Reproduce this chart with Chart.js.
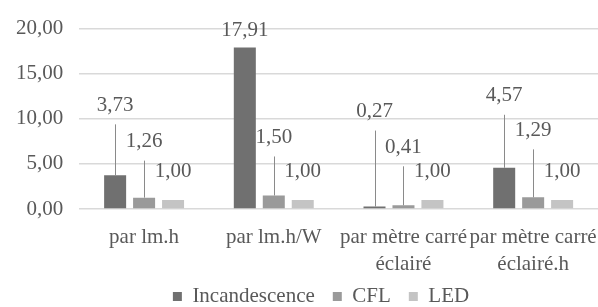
<!DOCTYPE html>
<html><head><meta charset="utf-8">
<script src="https://cdn.jsdelivr.net/npm/chart.js@4/dist/chart.umd.min.js"></script>
<style>html,body{margin:0;padding:0;background:#fff}#w{width:598px;height:307px}</style>
</head><body><div id="w"><canvas id="c" width="598" height="307"></canvas></div>
<script>
const categories = [["par lm.h"], ["par lm.h/W"], ["par mètre carré", "éclairé"], ["par mètre carré", "éclairé.h"]];
const seriesNames = ["Incandescence", "CFL", "LED"];
const incandescence = [3.73, 17.91, 0.27, 4.57];
const cfl = [1.26, 1.50, 0.41, 1.29];
const led = [1.00, 1.00, 1.00, 1.00];
const yTicks = [0, 5, 10, 15, 20];

const colors = ["#707070", "#9a9a9a", "#c4c4c4"];
const FONT = "'Liberation Serif', 'Times New Roman', serif";
const TXT = "#595959";
const FS = 21;
const fmt = v => v.toFixed(2).replace('.', ',');
Chart.defaults.font.family = FONT;
Chart.defaults.font.size = FS;
Chart.defaults.color = TXT;

// label lift above bar top (px) and whether a leader line is drawn
const labelLift = [[70, 17, 95, 72], [56, 58, 58, 67], [28, 28, 28, 28]];
const leader = [[true, false, true, true], [true, true, true, true], [false, false, false, false]];

const labelPlugin = {
  id: 'lbls',
  afterLayout(chart) {
    const lg = chart.legend;
    if (lg) {
      const p = lg.options.labels.padding;
      lg.top -= p;
      lg.height += p;
      lg.left += 22; lg.right += 22;
    }
  },
  afterDatasetsDraw(chart) {
    const ctx = chart.ctx;
    ctx.save();
    ctx.font = FS + "px " + FONT;
    ctx.fillStyle = TXT;
    ctx.textAlign = 'center';
    ctx.textBaseline = 'middle';
    chart.data.datasets.forEach((ds, di) => {
      const meta = chart.getDatasetMeta(di);
      meta.data.forEach((bar, i) => {
        const x = bar.x, top = bar.y;
        const ly = top - labelLift[di][i];
        if (leader[di][i]) {
          ctx.strokeStyle = "#8a8a8a";
          ctx.lineWidth = 1;
          ctx.beginPath();
          ctx.moveTo(Math.round(x) + 0.5, top);
          ctx.lineTo(Math.round(x) + 0.5, ly + 19);
          ctx.stroke();
        }
        ctx.fillText(fmt(ds.data[i]), x, ly);
      });
    });
    ctx.restore();
  }
};

new Chart(document.getElementById('c'), {
  type: 'bar',
  data: {
    labels: categories,
    datasets: [
      { label: seriesNames[0], data: incandescence, backgroundColor: colors[0] },
      { label: seriesNames[1], data: cfl, backgroundColor: colors[1] },
      { label: seriesNames[2], data: led, backgroundColor: colors[2] }
    ]
  },
  options: {
    responsive: false,
    animation: false,
    devicePixelRatio: 1,
    layout: { padding: { left: 0, right: 0, top: 9, bottom: 0 } },
    datasets: { bar: { categoryPercentage: 0.67, barPercentage: 0.76 } },
    plugins: {
      legend: {
        position: 'bottom',
        maxHeight: 21,
        labels: { font: { family: FONT, size: FS, lineHeight: 1 }, color: TXT, boxWidth: 9, boxHeight: 9, padding: 18 }
      },
      tooltip: { enabled: false }
    },
    scales: {
      x: {
        grid: { display: false, drawTicks: false },
        border: { display: false },
        ticks: { font: { family: FONT, size: FS, lineHeight: 1.3 }, color: TXT, maxRotation: 0, autoSkip: false, padding: 15 },
        afterFit: s => { s.height = 77; s.paddingLeft = 0; s.paddingRight = 0; }
      },
      y: {
        min: 0, max: 20,
        afterBuildTicks: ax => { ax.ticks = yTicks.map(v => ({ value: v })); },
        grid: { color: "#d9d9d9", lineWidth: 1.5, drawTicks: false },
        border: { display: false },
        ticks: { font: { family: FONT, size: FS }, color: TXT, padding: 16, callback: v => fmt(v) }
      }
    }
  },
  plugins: [labelPlugin]
});
</script></body></html>
